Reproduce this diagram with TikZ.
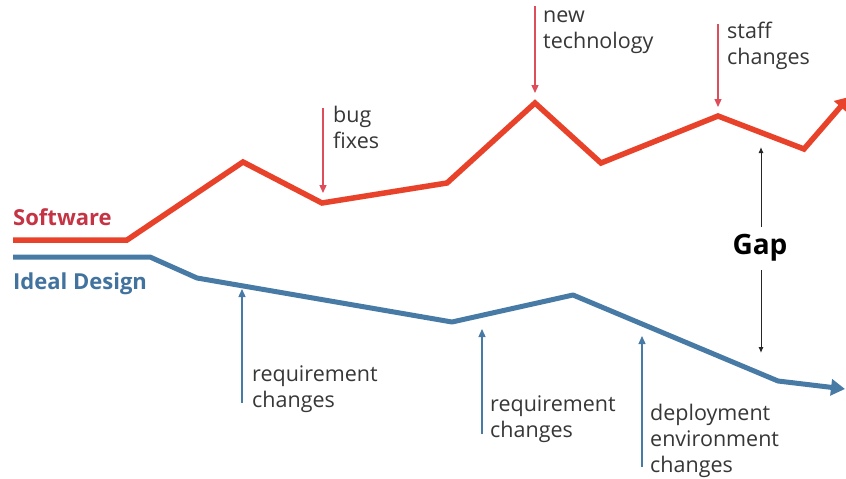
\documentclass[tikz,border=0pt]{standalone}
\usepackage{fontspec}
\setmainfont{Open Sans}
\usetikzlibrary{arrows.meta}
\definecolor{swred}{RGB}{232,66,42}
\definecolor{swlabel}{RGB}{196,52,68}
\definecolor{evred}{RGB}{222,78,90}
\definecolor{idblue}{RGB}{72,122,166}
\definecolor{idlabel}{RGB}{66,114,158}
\definecolor{txtgray}{RGB}{55,55,55}
\begin{document}
\begin{tikzpicture}[x=1pt,y=-1pt,
  redline/.style={draw=swred,line width=5.5pt,line join=miter,-{Triangle[length=13pt,width=17pt]}},
  blueline/.style={draw=idblue,line width=5pt,line join=round,-{Triangle[length=14pt,width=16pt]}},
  redevent/.style={draw=evred,line width=1.3pt,-{Triangle[length=8pt,width=7pt]}},
  blueevent/.style={draw=idblue,line width=1.3pt,-{Triangle[length=8pt,width=7pt]}},
  gaparrow/.style={draw=black!85,line width=1pt,{Latex[length=6pt,width=5pt]}-{Latex[length=6pt,width=5pt]}},
  evtext/.style={anchor=north west,inner sep=0pt,align=left,text=txtgray,font=\fontsize{21.5}{26}\selectfont},
  serieslabel/.style={anchor=base west,inner sep=0pt,font=\fontsize{22}{26}\selectfont\bfseries}]
\useasboundingbox[fill=white] (0,0) rectangle (846,479);
% software line
\coordinate (r0) at (13,240);
\coordinate (r1) at (127,240);
\coordinate (r2) at (243,162);
\coordinate (r3) at (322,203);
\coordinate (r4) at (447,183);
\coordinate (r5) at (535,103);
\coordinate (r6) at (601,163);
\coordinate (r7) at (718,116);
\coordinate (r8) at (804,149);
\coordinate (r9) at (849,97);
\draw[redline] (r0) -- (r1) -- (r2) -- (r3) -- (r4) -- (r5) -- (r6) -- (r7) -- (r8) -- (r9);
% ideal design line
\coordinate (b0) at (13,257);
\coordinate (b1) at (150,257);
\coordinate (b2) at (197,278);
\coordinate (b3) at (452,322);
\coordinate (b4) at (573,295);
\coordinate (b5) at (778,381);
\coordinate (b6) at (845,389);
\draw[blueline] (b0) -- (b1) -- (b2) -- (b3) -- (b4) -- (b5) -- (b6);
% labels
\node[serieslabel,text=swlabel] (sw) at (13,225) {Software};
\node[serieslabel,text=idlabel] (id) at (13,289) {Ideal Design};
% red events
\coordinate (bugT) at (323,108);
\coordinate (bugB) at (323,193);
\draw[redevent] (bugT) -- (bugB);
\node[evtext] (bug) at (333,106) {bug\\fixes};
\coordinate (ntT) at (535,6);
\coordinate (ntB) at (535,93);
\draw[redevent] (ntT) -- (ntB);
\node[evtext] (nt) at (543,11) {new\\technology};
\coordinate (stT) at (718,24);
\coordinate (stB) at (718,107);
\draw[redevent] (stT) -- (stB);
\node[evtext] (st) at (727,22) {staff\\changes};
% blue events
\coordinate (rq1B) at (242,403);
\coordinate (rq1T) at (242,289);
\draw[blueevent] (rq1B) -- (rq1T);
\node[evtext] (rq1) at (252,366) {requirement\\changes};
\coordinate (rq2B) at (482,434);
\coordinate (rq2T) at (482,329);
\draw[blueevent] (rq2B) -- (rq2T);
\node[evtext] (rq2) at (490,396) {requirement\\changes};
\coordinate (depB) at (642,467);
\coordinate (depT) at (642,336);
\draw[blueevent] (depB) -- (depT);
\node[evtext] (dep) at (650,404) {deployment\\environment\\changes};
% gap
\coordinate (gT) at (761,147);
\coordinate (gB) at (761,353);
\draw[gaparrow] (gT) -- (gB);
\node[fill=white,inner xsep=2pt,inner ysep=8pt,font=\fontsize{28}{30}\selectfont\bfseries,text=black] (gap) at (760,248) {Gap};
\end{tikzpicture}
\end{document}
